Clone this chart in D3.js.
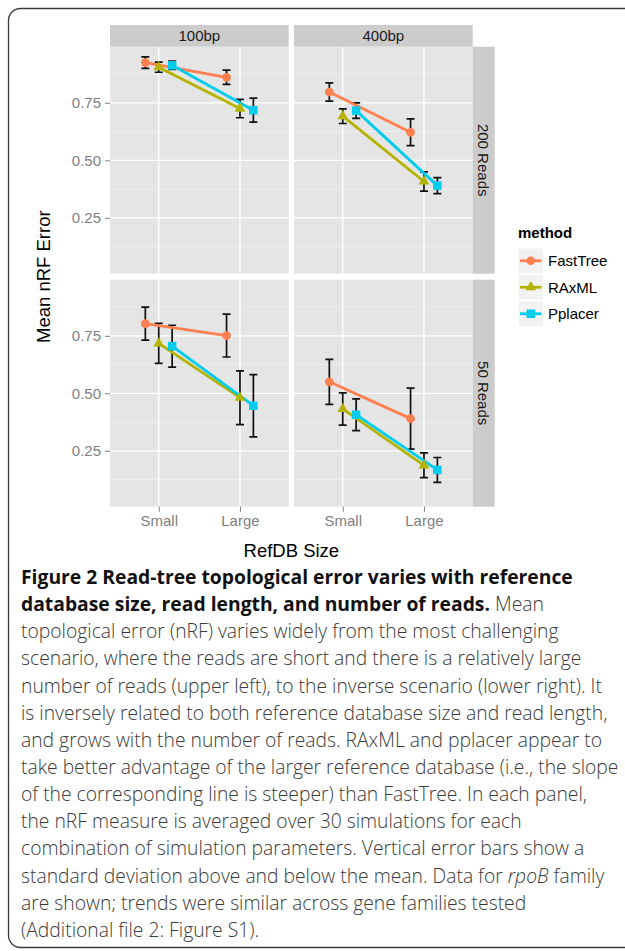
<html>
<head>
<style>
  body{margin:0;background:#fff}
  .plot text{font-family:"Liberation Sans",Arial,sans-serif}
  .axis path{display:none}
  .axis line{stroke:#7f7f7f}
  .axis text{fill:#7f7f7f;font-size:15px}
  .caption text{font-family:"Open Sans",sans-serif;fill:#333}
</style>
</head>
<body>
<div id="fig"></div>
<script src="https://cdn.jsdelivr.net/npm/d3@7"></script>
<script>
(function () {

  // ---- data ----
  var methods     = ['FastTree', 'RAxML', 'Pplacer'];
  var refSizes    = ['Small', 'Large'];
  var readLengths = ['100bp', '400bp'];
  var readCounts  = ['200 Reads', '50 Reads'];
  var yTicks      = [0.25, 0.50, 0.75];
  var yMinor      = [0.125, 0.375, 0.625, 0.875];
  var yDomain     = [0.007, 0.994];

  // panels in order: 200/100bp, 200/400bp, 50/100bp, 50/400bp ; each [Small, Large]
  var fastTreeMean = [[0.925, 0.861], [0.797, 0.622], [0.803, 0.751], [0.550, 0.390]];
  var fastTreeSd   = [[0.025, 0.031], [0.040, 0.058], [0.072, 0.093], [0.098, 0.133]];
  var raxmlMean    = [[0.905, 0.725], [0.692, 0.408], [0.717, 0.481], [0.432, 0.187]];
  var raxmlSd      = [[0.022, 0.040], [0.032, 0.042], [0.087, 0.117], [0.070, 0.054]];
  var pplacerMean  = [[0.913, 0.718], [0.716, 0.390], [0.705, 0.446], [0.407, 0.167]];
  var pplacerSd    = [[0.018, 0.052], [0.034, 0.035], [0.091, 0.135], [0.069, 0.054]];

  var colors = {FastTree: '#ff7f50', RAxML: '#b3b300', Pplacer: '#00ccee'};
  var shapes = {FastTree: d3.symbolCircle, RAxML: d3.symbolTriangle, Pplacer: d3.symbolSquare};
  var sizes  = {FastTree: 60, RAxML: 50, Pplacer: 72};

  var meanBy = {FastTree: fastTreeMean, RAxML: raxmlMean, Pplacer: pplacerMean};
  var sdBy   = {FastTree: fastTreeSd,   RAxML: raxmlSd,   Pplacer: pplacerSd};

  // ---- layout ----
  var
    width   = 625,
    height  = 951,
    left    = 110,
    top     = 46.7,
    panelW  = 178.7,
    panelH  = 227,
    gapX    = 5.3,
    gapY    = 6,
    stripH  = 21.7,
    stripW  = 22;

  var svg = d3.select('#fig').append('svg')
    .attr('width', width)
    .attr('height', height);

  // outer frame
  svg.append('rect')
    .attr('x', 8.5).attr('y', 8.5)
    .attr('width', 680).attr('height', 939)
    .attr('rx', 12)
    .attr('fill', 'none')
    .attr('stroke', '#3a3a3a')
    .attr('stroke-width', 1.3);

  var plot = svg.append('g').attr('class', 'plot');

  var xScale = d3.scalePoint().domain(refSizes).range([0, panelW]).padding(0.6);
  var yScale = d3.scaleLinear().domain(yDomain).range([panelH, 0]);
  var dodge  = d3.scalePoint().domain(methods).range([-0.165, 0.165].map(function (v) { return v * xScale.step(); }));

  var line = d3.line()
    .x(function (d) { return d.x; })
    .y(function (d) { return yScale(d.mean); });

  readCounts.forEach(function (rc, r) {
    readLengths.forEach(function (rl, c) {
      var p  = r * 2 + c;
      var px = left + c * (panelW + gapX);
      var py = top + r * (panelH + gapY);
      var g  = plot.append('g').attr('transform', 'translate(' + px + ',' + py + ')');

      g.append('rect').attr('width', panelW).attr('height', panelH).attr('fill', '#e5e5e5');

      g.selectAll('.minor').data(yMinor).enter().append('line')
        .attr('x1', 0).attr('x2', panelW)
        .attr('y1', yScale).attr('y2', yScale)
        .attr('stroke', '#f2f2f2').attr('stroke-width', 0.7);

      g.selectAll('.major').data(yTicks).enter().append('line')
        .attr('x1', 0).attr('x2', panelW)
        .attr('y1', yScale).attr('y2', yScale)
        .attr('stroke', '#fff').attr('stroke-width', 1.3);

      g.selectAll('.vmajor').data(refSizes).enter().append('line')
        .attr('x1', xScale).attr('x2', xScale)
        .attr('y1', 0).attr('y2', panelH)
        .attr('stroke', '#fff').attr('stroke-width', 1.3);

      var series = methods.map(function (m) {
        return {
          method: m,
          pts: refSizes.map(function (s, i) {
            return {x: xScale(s) + dodge(m), mean: meanBy[m][p][i], sd: sdBy[m][p][i], method: m};
          })
        };
      });

      // error bars
      series.forEach(function (s) {
        var eb = g.append('g').attr('stroke', '#111').attr('stroke-width', 1.7).attr('fill', 'none');
        s.pts.forEach(function (d) {
          var y0 = yScale(d.mean - d.sd), y1 = yScale(d.mean + d.sd);
          eb.append('path')
            .attr('d', 'M' + (d.x - 4) + ',' + y1 + 'H' + (d.x + 4) +
                       'M' + d.x + ',' + y1 + 'V' + y0 +
                       'M' + (d.x - 4) + ',' + y0 + 'H' + (d.x + 4));
        });
      });

      // lines
      series.forEach(function (s) {
        g.append('path')
          .attr('d', line(s.pts))
          .attr('fill', 'none')
          .attr('stroke', colors[s.method])
          .attr('stroke-width', 2.8);
      });

      // points
      series.forEach(function (s) {
        g.selectAll(null).data(s.pts).enter().append('path')
          .attr('transform', function (d) { return 'translate(' + d.x + ',' + yScale(d.mean) + ')'; })
          .attr('d', d3.symbol().type(shapes[s.method]).size(sizes[s.method]))
          .attr('fill', colors[s.method]);
      });

      // axes
      if (c === 0) {
        g.append('g').attr('class', 'axis')
          .call(d3.axisLeft(yScale).tickValues(yTicks).tickFormat(d3.format('.2f')).tickSize(5).tickPadding(4));
      }
      if (r === readCounts.length - 1) {
        g.append('g').attr('class', 'axis')
          .attr('transform', 'translate(0,' + panelH + ')')
          .call(d3.axisBottom(xScale).tickSize(5).tickPadding(4));
      }

      // top strip
      if (r === 0) {
        plot.append('rect')
          .attr('x', px).attr('y', top - stripH)
          .attr('width', panelW).attr('height', stripH)
          .attr('fill', '#cccccc');
        plot.append('text')
          .attr('x', px + panelW / 2).attr('y', top - stripH / 2)
          .attr('dy', '0.35em')
          .attr('text-anchor', 'middle')
          .attr('font-size', 15)
          .attr('fill', '#1a1a1a')
          .text(rl);
      }
      // right strip
      if (c === readLengths.length - 1) {
        plot.append('rect')
          .attr('x', px + panelW).attr('y', py)
          .attr('width', stripW).attr('height', panelH)
          .attr('fill', '#cccccc');
        plot.append('text')
          .attr('transform', 'translate(' + (px + panelW + stripW / 2) + ',' + (py + panelH / 2) + ') rotate(90)')
          .attr('dy', '0.35em')
          .attr('text-anchor', 'middle')
          .attr('font-size', 15)
          .attr('fill', '#1a1a1a')
          .text(rc);
      }
    });
  });

  var plotRight = left + 2 * panelW + gapX;

  // axis titles
  plot.append('text')
    .attr('x', (left + plotRight) / 2)
    .attr('y', top + 2 * panelH + gapY + 50)
    .attr('text-anchor', 'middle')
    .attr('font-size', 18.5)
    .attr('fill', '#000')
    .text('RefDB Size');

  plot.append('text')
    .attr('transform', 'translate(50,' + (top + panelH + gapY / 2) + ') rotate(-90)')
    .attr('text-anchor', 'middle')
    .attr('font-size', 18.5)
    .attr('fill', '#000')
    .text('Mean nRF Error');

  // legend
  var lg = plot.append('g').attr('transform', 'translate(518,248)');
  lg.append('text')
    .attr('x', 0).attr('y', -10)
    .attr('font-size', 15)
    .attr('font-weight', 'bold')
    .text('method');
  methods.forEach(function (m, i) {
    var k = lg.append('g').attr('transform', 'translate(0,' + (i * 26.5) + ')');
    k.append('rect')
      .attr('width', 25.5).attr('height', 25.5)
      .attr('fill', '#f2f2f2').attr('stroke', '#fff');
    k.append('line')
      .attr('x1', 2).attr('x2', 23.5)
      .attr('y1', 12.75).attr('y2', 12.75)
      .attr('stroke', colors[m]).attr('stroke-width', 2.8);
    k.append('path')
      .attr('transform', 'translate(12.75,12.75)')
      .attr('d', d3.symbol().type(shapes[m]).size(sizes[m]))
      .attr('fill', colors[m]);
    k.append('text')
      .attr('x', 30).attr('y', 12.75)
      .attr('dy', '0.35em')
      .attr('font-size', 15)
      .attr('fill', '#000')
      .text(m);
  });

  // ---- caption ----
  var captionLines = [
    [['b', 'Figure 2 Read-tree topological error varies with reference']],
    [['b', 'database size, read length, and number of reads.'], ['r', ' Mean']],
    [['r', 'topological error (nRF) varies widely from the most challenging']],
    [['r', 'scenario, where the reads are short and there is a relatively large']],
    [['r', 'number of reads (upper left), to the inverse scenario (lower right). It']],
    [['r', 'is inversely related to both reference database size and read length,']],
    [['r', 'and grows with the number of reads. RAxML and pplacer appear to']],
    [['r', 'take better advantage of the larger reference database (i.e., the slope']],
    [['r', 'of the corresponding line is steeper) than FastTree. In each panel,']],
    [['r', 'the nRF measure is averaged over 30 simulations for each']],
    [['r', 'combination of simulation parameters. Vertical error bars show a']],
    [['r', 'standard deviation above and below the mean. Data for '], ['i', 'rpoB'], ['r', ' family']],
    [['r', 'are shown; trends were similar across gene families tested']],
    [['r', '(Additional file 2: Figure S1).']]
  ];

  var cap = svg.append('g').attr('class', 'caption');
  var capLines = cap.selectAll('text').data(captionLines).enter().append('text')
    .attr('x', 0)
    .attr('y', function (d, i) { return i * 27.15; })
    .attr('font-size', 19.5);
  capLines.selectAll('tspan').data(function (d) { return d; }).enter().append('tspan')
    .attr('font-weight', function (d) { return d[0] === 'b' ? 700 : 300; })
    .attr('font-style', function (d) { return d[0] === 'i' ? 'italic' : 'normal'; })
    .attr('fill', function (d) { return d[0] === 'b' ? '#111' : '#3a3a3a'; })
    .text(function (d) { return d[1]; });

  // squeeze the caption so that the longest line spans the same width as in the figure
  var refWidth = capLines.nodes()[7].getComputedTextLength();
  var sx = 598 / refWidth;
  cap.attr('transform', 'translate(21,584) scale(' + sx + ',1)');

})();
</script>
</body>
</html>
